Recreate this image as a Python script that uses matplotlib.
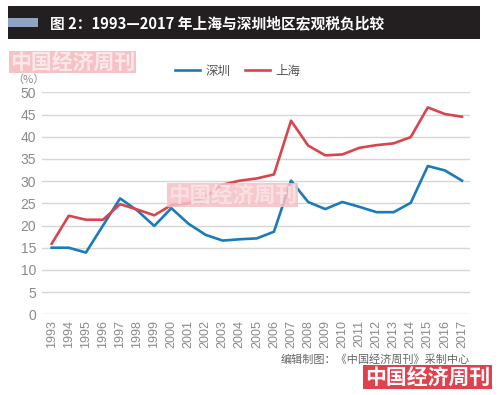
import numpy as np
import matplotlib.pyplot as plt
from matplotlib.patches import Rectangle

plt.rcParams['font.family'] = ['Noto Sans CJK SC', 'DejaVu Sans']

years = list(range(1993, 2018))
shenzhen = [15.0, 15.0, 13.9, 20.0, 26.1, 23.4, 19.9, 23.9, 20.4, 17.9, 16.6, 16.9, 17.1, 18.6,
            30.1, 25.3, 23.7, 25.3, 24.2, 23.0, 23.0, 25.1, 33.4, 32.4, 30.1]
shanghai = [15.9, 22.2, 21.3, 21.3, 24.8, 23.6, 22.3, 24.6, 25.0, 26.5, 29.2, 30.1, 30.6, 31.5,
            43.6, 38.0, 35.8, 36.0, 37.5, 38.1, 38.5, 39.9, 46.6, 45.1, 44.5]
series_names = ['深圳', '上海']
colors = ['#1b7bb8', '#d9444d']

title = '图 2：1993—2017 年上海与深圳地区宏观税负比较'
source = '编辑制图：《中国经济周刊》采制中心'
mark = '中国经济周刊'

fig = plt.figure(figsize=(5.0, 3.95), dpi=100)
W, H = 500, 395
num_font = ['Liberation Sans', 'DejaVu Sans']

# title bar
fig.patches.append(Rectangle((8 / W, 1 - 39 / H), 472 / W, 33 / H, transform=fig.transFigure,
                             facecolor='#231f20', edgecolor='none'))
fig.patches.append(Rectangle((8 / W, 1 - 27 / H), 30 / W, 9 / H, transform=fig.transFigure,
                             facecolor='#8fa3c2', edgecolor='none'))
fig.text(50 / W, 1 - 23 / H, title, color='white', fontsize=10.6, fontweight='bold',
         va='center', ha='left')

ax = fig.add_axes([41.7 / W, 1 - 314.3 / H, (470 - 41.7) / W, (314.3 - 92.3) / H])
ax.plot(years, shenzhen, color=colors[0], lw=1.9, label=series_names[0], zorder=3)
ax.plot(years, shanghai, color=colors[1], lw=1.9, label=series_names[1], zorder=3)

ax.set_ylim(0, 50)
ax.set_xlim(1993 - 10 / 17.1, 2017 + 8 / 17.1)
ax.set_yticks(np.arange(0, 51, 5))
ax.set_xticks(years)
ax.set_xticklabels([str(y) for y in years], rotation=90, fontsize=9, color='#8a8a8a',
                   family=num_font)
for lab in ax.get_yticklabels():
    lab.set_family(num_font)
ax.tick_params(axis='y', labelsize=10, labelcolor='#8a8a8a', length=0, pad=4)
ax.tick_params(axis='x', length=0, pad=4)
ax.yaxis.grid(True, color='#d6d6d6', lw=1.0)
ax.set_axisbelow(True)
for s in ax.spines.values():
    s.set_visible(False)

fig.text(12 / W, 1 - 80 / H, '（%）', fontsize=8, color='#8a8a8a', va='center', ha='left')

leg = ax.legend(loc='center left', bbox_to_anchor=(164 / W, 1 - 71 / H),
                bbox_transform=fig.transFigure, ncol=2, frameon=False,
                fontsize=9, handlelength=2.0, columnspacing=1.1, handletextpad=0.45)
for t in leg.get_texts():
    t.set_color('#555555')

fig.text(470 / W, 1 - 360 / H, source, fontsize=8, color='#666666', ha='right', va='center')

# watermarks
fig.text(10 / W, 1 - 62 / H, mark, fontsize=15, fontweight='bold', color='#fbe9ea',
         ha='left', va='center',
         bbox=dict(boxstyle='square,pad=0.04', facecolor='#f6c2c6', edgecolor='none'))
fig.text(168 / W, 1 - 195 / H, mark, fontsize=15.5, fontweight='bold', color='#fbe3e5',
         ha='left', va='center', alpha=0.9, zorder=5,
         bbox=dict(boxstyle='square,pad=0.05', facecolor='#f4c0c5', edgecolor='none', alpha=0.85))
fig.text(365 / W, 1 - 377 / H, mark, fontsize=15, fontweight='bold', color='white',
         ha='left', va='center',
         bbox=dict(boxstyle='square,pad=0.08', facecolor='#e0414c', edgecolor='none'))

fig.savefig('out.png', dpi=100, facecolor='white')
